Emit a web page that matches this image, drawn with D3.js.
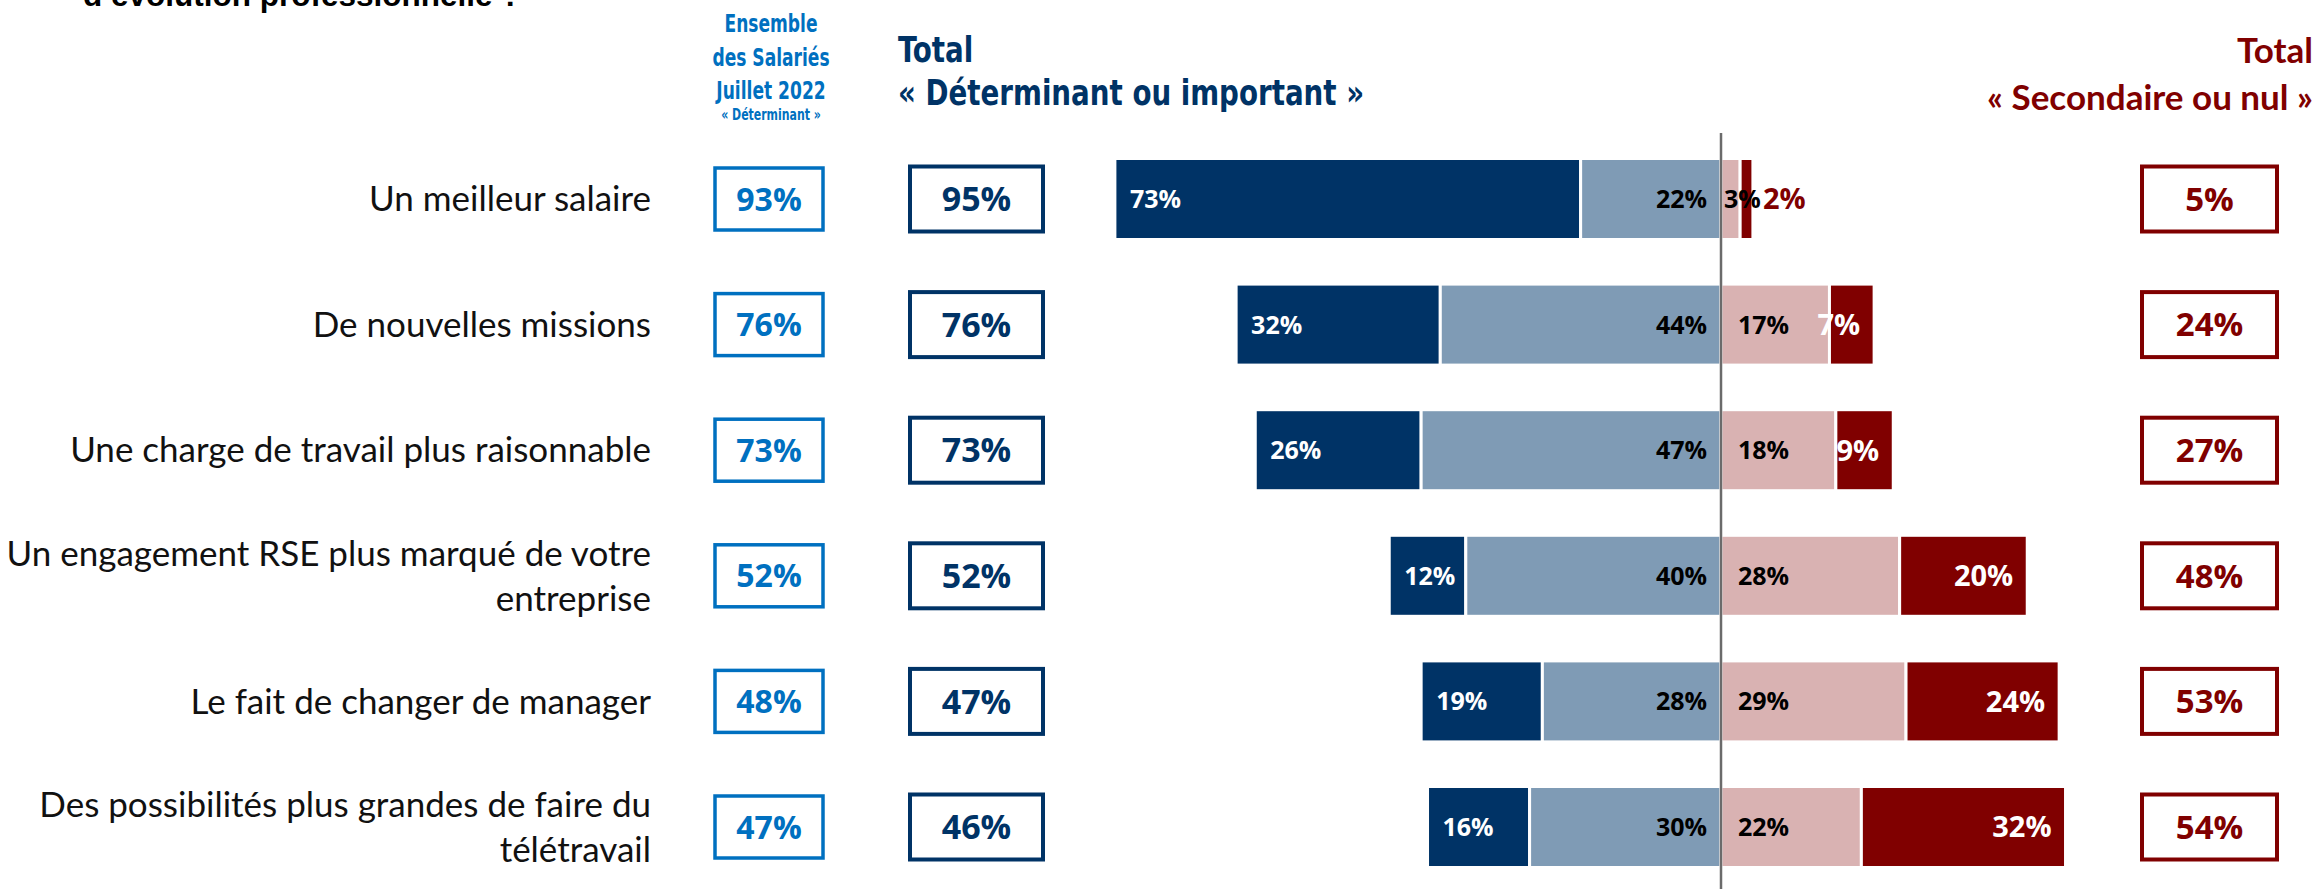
<!DOCTYPE html>
<html><head><meta charset="utf-8">
<script src="https://cdn.jsdelivr.net/npm/d3@7"></script>
<style>
html,body{margin:0;padding:0;background:#fff;overflow:hidden}
svg{display:block}
</style></head>
<body>
<svg id="chart" width="2320" height="889"></svg>
<script>
const categories = [
  "Un meilleur salaire",
  "De nouvelles missions",
  "Une charge de travail plus raisonnable",
  "Un engagement RSE plus marqué de votre\nentreprise",
  "Le fait de changer de manager",
  "Des possibilités plus grandes de faire du\ntélétravail"
];
const ensemble2022 = [93, 76, 73, 52, 48, 47];
const totalImportant = [95, 76, 73, 52, 47, 46];
const determinant = [73, 32, 26, 12, 19, 16];
const important = [22, 44, 47, 40, 28, 30];
const secondaire = [3, 17, 18, 28, 29, 22];
const nul = [2, 7, 9, 20, 24, 32];
const totalSecondaire = [5, 24, 27, 48, 53, 54];

const C = {
  det: "#003366", imp: "#7F9BB5", sec: "#D9B2B2", nul: "#800000",
  ens: "#0070C0", nav: "#003366", red: "#800000", axis: "#6b6b6b"
};
const FONT_LBL = "Lato, 'Noto Sans', sans-serif";
const FONT_NUM = "'Open Sans', 'Noto Sans', sans-serif";
const FONT_NARROW = "'Liberation Sans Narrow', 'DejaVu Sans Condensed', 'Liberation Sans', sans-serif";

const svg = d3.select("#chart");
const x = d3.scaleLinear().domain([-100, 100]).range([1721 - 638, 1721 + 638]);
const y = d3.scalePoint().domain(d3.range(categories.length)).range([136.2, 889.8]).padding(0.5);
const barH = 81;

// Title (clipped at top, as in the reference)
svg.append("text").attr("x", 83).attr("y", 6)
  .attr("font-family", "'Liberation Sans', Arial, sans-serif").attr("font-weight", 700)
  .attr("font-size", 31.5).attr("fill", "#000").text("d’évolution professionnelle ?");

// Header: Ensemble des Salariés (condensed)
const hdr = svg.append("g").attr("font-family", FONT_NARROW).attr("font-weight", 700)
  .attr("fill", C.ens).attr("text-anchor", "middle")
  .attr("transform", "translate(771,0) scale(0.76,1)");
[["Ensemble", 32, 25], ["des Salariés", 66, 25], ["Juillet 2022", 99, 25], ["« Déterminant »", 120, 16]]
  .forEach(([t, yy, fs]) => hdr.append("text").attr("x", 0).attr("y", yy).attr("font-size", fs).text(t));

// Header: Total Déterminant ou important (condensed)
const h2 = svg.append("g").attr("font-family", FONT_NARROW).attr("font-weight", 700).attr("fill", C.nav)
  .attr("transform", "translate(898,0) scale(0.88,1)");
h2.append("text").attr("x", 0).attr("y", 62).attr("font-size", 35).text("Total");
h2.append("text").attr("x", 0).attr("y", 105).attr("font-size", 35).text("« Déterminant ou important »");

// Header: Total Secondaire ou nul
const h3 = svg.append("g").attr("font-family", FONT_LBL).attr("font-weight", 700).attr("fill", C.red)
  .attr("text-anchor", "end");
h3.append("text").attr("x", 2313).attr("y", 63).attr("font-size", 35).text("Total");
h3.append("text").attr("x", 2313).attr("y", 110).attr("font-size", 35).text("« Secondaire ou nul »");

// Category labels
categories.forEach((c, i) => {
  const lines = c.split("\n");
  const t = svg.append("text").attr("text-anchor", "end").attr("font-family", FONT_LBL)
    .attr("font-size", 35).attr("fill", "#111");
  const lh = 45;
  lines.forEach((ln, k) => {
    t.append("tspan").attr("x", 651)
      .attr("y", y(i) + (k - (lines.length - 1) / 2) * lh).attr("dy", "0.35em").text(ln);
  });
});

// Boxes
function box(cx, w, h, color, sw, vals, fs) {
  const g = svg.append("g");
  vals.forEach((v, i) => {
    g.append("rect").attr("x", cx - w / 2).attr("y", y(i) - h / 2).attr("width", w).attr("height", h)
      .attr("fill", "#fff").attr("stroke", color).attr("stroke-width", sw);
    g.append("text").attr("x", cx).attr("y", y(i)).attr("dy", "0.36em").attr("text-anchor", "middle")
      .attr("font-family", FONT_NUM).attr("font-weight", 700).attr("font-size", fs).attr("fill", color)
      .text(v + "%");
  });
}
box(769, 108, 62, C.ens, 3.5, ensemble2022, 32);
box(976.5, 133, 65, C.nav, 4, totalImportant, 34);
box(2209.5, 135, 65, C.red, 4, totalSecondaire, 33);

// Bars
const rows = categories.map((c, i) => ({
  i,
  segs: [
    { k: "det", x0: -(determinant[i] + important[i]), x1: -important[i], v: determinant[i] },
    { k: "imp", x0: -important[i], x1: 0, v: important[i] },
    { k: "sec", x0: 0, x1: secondaire[i], v: secondaire[i] },
    { k: "nul", x0: secondaire[i], x1: secondaire[i] + nul[i], v: nul[i] }
  ]
}));
const bars = svg.append("g");
rows.forEach(r => {
  r.segs.forEach(s => {
    bars.append("rect").attr("x", x(s.x0)).attr("y", y(r.i) - barH / 2)
      .attr("width", x(s.x1) - x(s.x0)).attr("height", barH)
      .attr("fill", C[s.k]).attr("stroke", "#fff").attr("stroke-width", 3);
  });
});
const labels = svg.append("g").attr("font-family", FONT_NUM).attr("font-weight", 700);
rows.forEach(r => {
  r.segs.forEach(s => {
    const w = x(s.x1) - x(s.x0);
    let tx, anchor, fill, fs = 25;
    if (s.k === "det") { tx = x(s.x0) + 15; anchor = "start"; fill = "#fff"; }
    else if (s.k === "imp") { tx = x(s.x1) - 14; anchor = "end"; fill = "#000"; }
    else if (s.k === "sec") { tx = x(s.x0) + (w > 40 ? 17 : 3); anchor = "start"; fill = "#000"; }
    else {
      fs = 29;
      if (w > 30) { tx = x(s.x1) - 14; anchor = "end"; fill = "#fff"; }
      else { tx = x(s.x1) + 10; anchor = "start"; fill = C.red; }
    }
    labels.append("text").attr("x", tx).attr("y", y(r.i)).attr("dy", "0.36em")
      .attr("font-size", fs).attr("text-anchor", anchor).attr("fill", fill).text(s.v + "%");
  });
});

// Center axis line
svg.append("line").attr("x1", x(0)).attr("x2", x(0)).attr("y1", 133).attr("y2", 889)
  .attr("stroke", C.axis).attr("stroke-width", 2.5);
</script>
</body></html>
